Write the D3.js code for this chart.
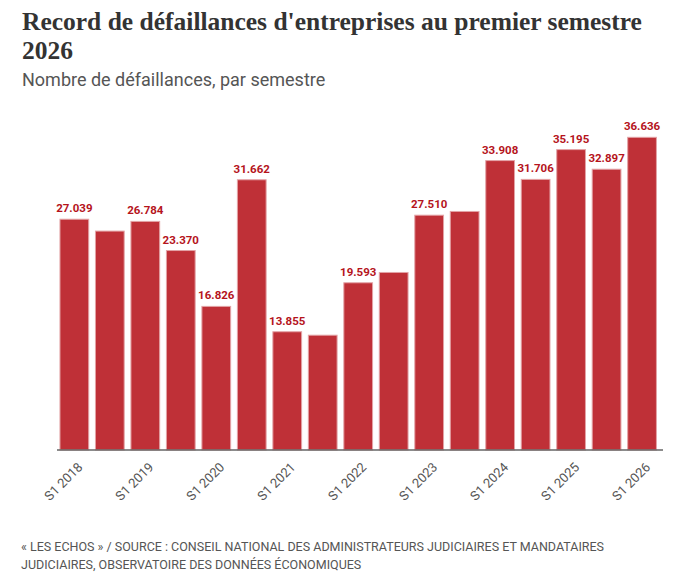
<!DOCTYPE html>
<html>
<head>
<meta charset="utf-8">
<script src="https://cdn.jsdelivr.net/npm/d3@7"></script>
<style>
  body { margin: 0; background: #fff; }
  svg { display: block; }
</style>
</head>
<body>
<div id="chart"></div>
<script>
// semestres, defaillances (S2 values without label are read off bar heights)
var semesters = ['S1 2018','S2 2018','S1 2019','S2 2019','S1 2020','S2 2020','S1 2021','S2 2021',
  'S1 2022','S2 2022','S1 2023','S2 2023','S1 2024','S2 2024','S1 2025','S2 2025','S1 2026'];
var failures = [27039, 25650, 26784, 23370, 16826, 31662, 13855, 13450,
  19593, 20800, 27510, 27950, 33908, 31706, 35195, 32897, 36636];
var shownLabels = [true, false, true, true, true, true, true, false,
  true, false, true, false, true, true, true, true, true];
var tickLabels = ['S1 2018','S1 2019','S1 2020','S1 2021','S1 2022','S1 2023','S1 2024','S1 2025','S1 2026'];

var W = 687, H = 574;
var svg = d3.select('#chart').append('svg').attr('width', W).attr('height', H);

svg.append('text').attr('x', 22).attr('y', 30)
  .style('font', 'bold 25.5px "Liberation Serif", serif').attr('fill', '#333')
  .text("Record de défaillances d'entreprises au premier semestre");
svg.append('text').attr('x', 22).attr('y', 59)
  .style('font', 'bold 25.5px "Liberation Serif", serif').attr('fill', '#333')
  .text('2026');
svg.append('text').attr('x', 22).attr('y', 86)
  .style('font', '18px Roboto, sans-serif').attr('fill', '#555')
  .text('Nombre de défaillances, par semestre');

var x = d3.scaleBand().domain(semesters).range([56.6, 659.8])
  .paddingInner(0.19).paddingOuter(0.095);
var y = d3.scaleLinear().domain([0, 40000]).range([450, 108.6]);

svg.selectAll('rect.bar').data(failures).enter().append('rect')
  .attr('class', 'bar')
  .attr('x', function(d, i){ return x(semesters[i]); })
  .attr('y', function(d){ return y(d); })
  .attr('width', x.bandwidth())
  .attr('height', function(d){ return y(0) - y(d); })
  .attr('fill', '#bf3037')
  .attr('stroke', '#e3a3a6')
  .attr('stroke-width', 1);

svg.selectAll('text.val').data(failures).enter()
  .filter(function(d, i){ return shownLabels[i]; })
  .append('text').attr('class', 'val')
  .attr('x', function(d){ var i = failures.indexOf(d); return x(semesters[i]) + x.bandwidth() / 2; })
  .attr('y', function(d){ return y(d) - 7; })
  .attr('text-anchor', 'middle')
  .style('font', 'bold 11.5px Roboto, sans-serif')
  .attr('fill', '#b5141c')
  .text(function(d){ return d3.format(',')(d).replace(',', '.'); });

var axis = svg.append('g').attr('transform', 'translate(0,450)')
  .call(d3.axisBottom(x).tickValues(tickLabels).tickSize(0).tickPadding(0));
axis.select('.domain').attr('stroke', '#666').attr('stroke-width', 1.5)
  .attr('d', 'M57,0H663');
axis.selectAll('.tick text')
  .attr('text-anchor', 'end')
  .attr('transform', 'translate(9,18) rotate(-45)')
  .attr('dy', 0)
  .style('font', '13px Roboto, sans-serif')
  .attr('fill', '#555');

svg.append('text').attr('x', 21).attr('y', 551)
  .style('font', '12.5px Roboto, sans-serif').attr('fill', '#555')
  .text('« LES ECHOS » / SOURCE : CONSEIL NATIONAL DES ADMINISTRATEURS JUDICIAIRES ET MANDATAIRES');
svg.append('text').attr('x', 21).attr('y', 569)
  .style('font', '12.5px Roboto, sans-serif').attr('fill', '#555')
  .text('JUDICIAIRES, OBSERVATOIRE DES DONNÉES ÉCONOMIQUES');
</script>
</body>
</html>
